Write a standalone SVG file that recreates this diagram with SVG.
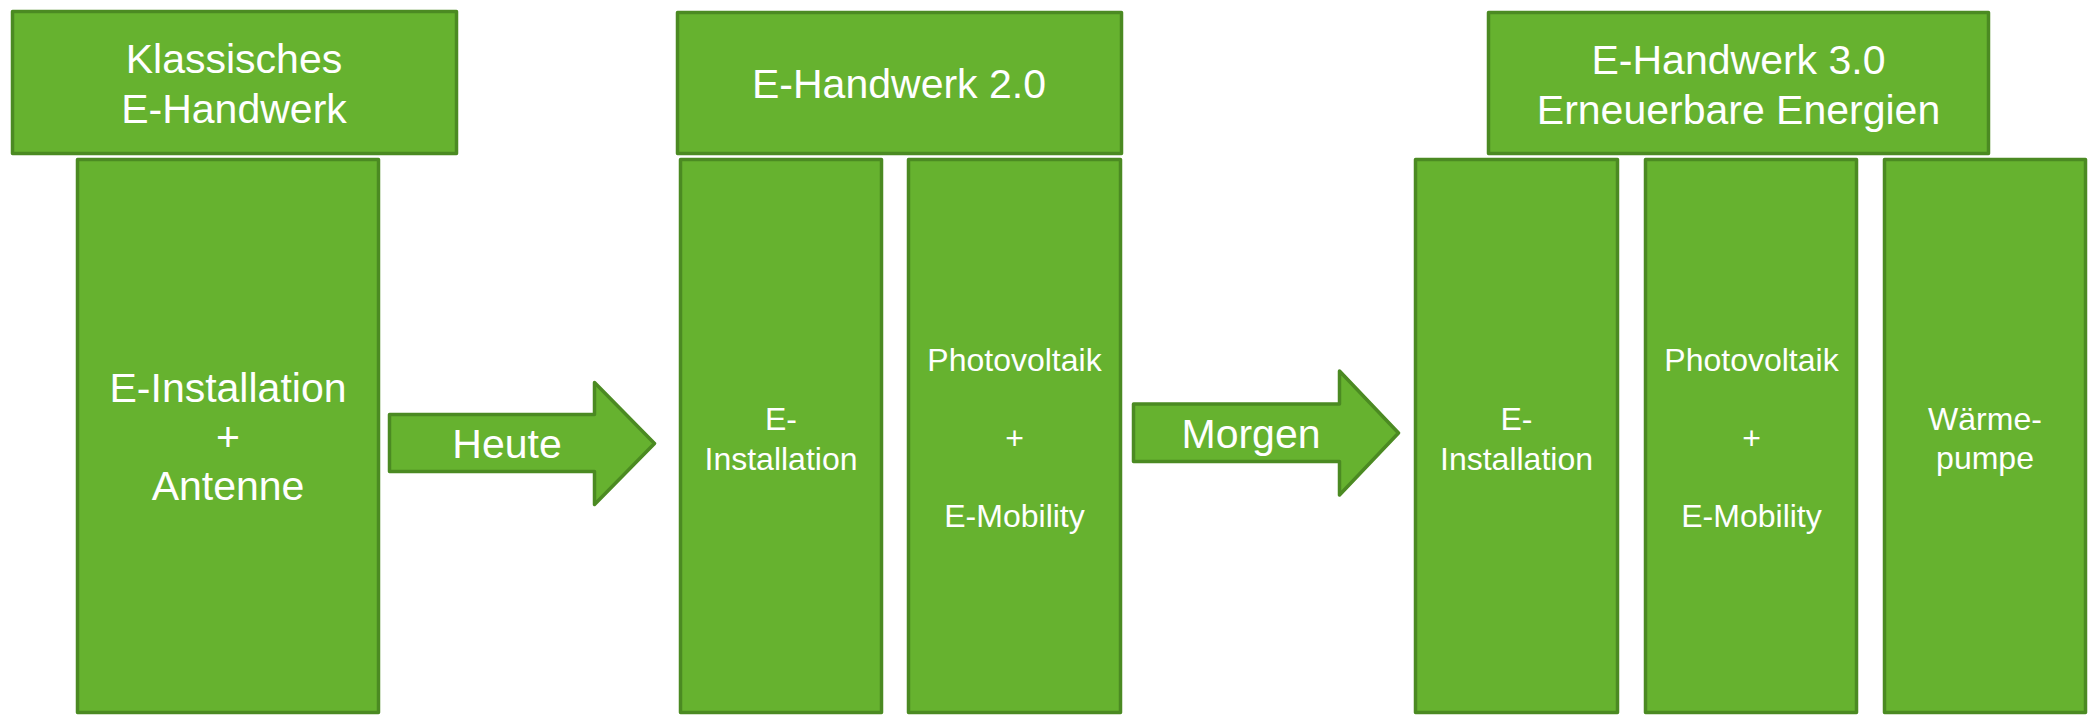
<svg xmlns="http://www.w3.org/2000/svg" width="2098" height="715" viewBox="0 0 2098 715">
<style>
.box{fill:#66B22F;stroke:#4B8A22;stroke-width:3.5;stroke-linejoin:round}
.t{fill:#FFFFFF;font-family:"Liberation Sans",Arial,sans-serif;text-anchor:middle}
.l{font-size:41px}
.s{font-size:32px}
</style>
<rect x="0" y="0" width="2098" height="715" fill="#FFFFFF"/>
<g id="connectors">
<g id="arrow-heute">
<path class="box" d="M389.5,414.5 L594.5,414.5 L594.5,382.5 L654.5,443.5 L594.5,504.5 L594.5,471.5 L389.5,471.5 Z"/>
<text class="t l" x="507" y="458">Heute</text>
</g>
<g id="arrow-morgen">
<path class="box" d="M1133.5,404 L1339.5,404 L1339.5,371 L1398.5,433 L1339.5,495 L1339.5,461.5 L1133.5,461.5 Z"/>
<text class="t l" x="1251" y="448">Morgen</text>
</g>
</g>
<g id="col1">
<rect class="box" x="77.5" y="159.5" width="301" height="553"/>
<text class="t l" x="228" y="401.5">E-Installation</text>
<text class="t l" x="228" y="451">+</text>
<text class="t l" x="228" y="500">Antenne</text>
</g>
<g id="header1">
<rect class="box" x="12.5" y="11.5" width="444" height="142"/>
<text class="t l" x="234" y="73">Klassisches</text>
<text class="t l" x="234" y="123">E-Handwerk</text>
</g>
<g id="col2a">
<rect class="box" x="680.5" y="159.5" width="201" height="553"/>
<text class="t s" x="781" y="430">E-</text>
<text class="t s" x="781" y="470">Installation</text>
</g>
<g id="col2b">
<rect class="box" x="908.5" y="159.5" width="212" height="553"/>
<text class="t s" x="1014.5" y="371">Photovoltaik</text>
<text class="t s" x="1014.5" y="449">+</text>
<text class="t s" x="1014.5" y="527">E-Mobility</text>
</g>
<g id="header2">
<rect class="box" x="677.5" y="12.5" width="444" height="141"/>
<text class="t l" x="899" y="98">E-Handwerk 2.0</text>
</g>
<g id="col3a">
<rect class="box" x="1415.5" y="159.5" width="202" height="553"/>
<text class="t s" x="1516.5" y="430">E-</text>
<text class="t s" x="1516.5" y="470">Installation</text>
</g>
<g id="col3b">
<rect class="box" x="1645.5" y="159.5" width="211" height="553"/>
<text class="t s" x="1751.5" y="371">Photovoltaik</text>
<text class="t s" x="1751.5" y="449">+</text>
<text class="t s" x="1751.5" y="527">E-Mobility</text>
</g>
<g id="col3c">
<rect class="box" x="1884.5" y="159.5" width="201" height="553"/>
<text class="t s" x="1985" y="430">Wärme-</text>
<text class="t s" x="1985" y="469">pumpe</text>
</g>
<g id="header3">
<rect class="box" x="1488.5" y="12.5" width="500" height="141"/>
<text class="t l" x="1738.5" y="74">E-Handwerk 3.0</text>
<text class="t l" x="1738.5" y="124">Erneuerbare Energien</text>
</g>
</svg>
